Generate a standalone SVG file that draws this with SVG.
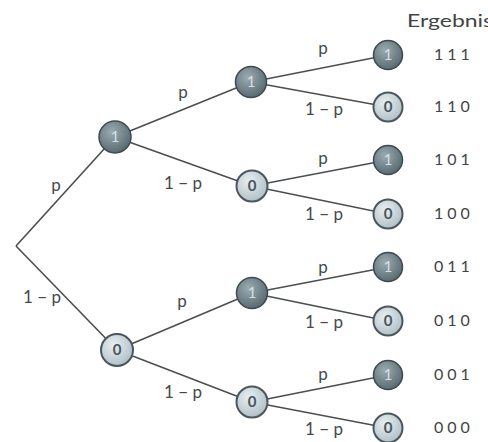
<svg xmlns="http://www.w3.org/2000/svg" width="488" height="442" viewBox="0 0 488 442">
<defs>
<radialGradient id="g1" cx="0.4" cy="0.35" r="0.7">
<stop offset="0" stop-color="#9aabb2"/>
<stop offset="1" stop-color="#56666d"/>
</radialGradient>
<radialGradient id="g0" cx="0.4" cy="0.35" r="0.7">
<stop offset="0" stop-color="#e8eff2"/>
<stop offset="1" stop-color="#aebdc4"/>
</radialGradient>
</defs>
<style>
.e{stroke:#4a4f52;stroke-width:1.6;fill:none}
.n1 circle{fill:url(#g1);stroke:#3d4a50;stroke-width:1.5}
.n0 circle{fill:url(#g0);stroke:#4a565c;stroke-width:2}
.n1 text{fill:#d6e0e4;font-family:Lato,"Open Sans",sans-serif;font-size:15px;text-anchor:middle}
.n0 text{fill:#4a565c;font-family:Lato,"Open Sans",sans-serif;font-size:15px;text-anchor:middle;font-weight:bold}
.l{fill:#45494c;font-family:Lato,"Open Sans",sans-serif;font-size:17px;text-anchor:middle}
.r{fill:#3f4447;font-family:Lato,"Open Sans",sans-serif;font-size:16px;letter-spacing:4px}
</style>
<rect width="488" height="442" fill="#ffffff"/>
<g id="connectors">
<path class="e" d="M16,246 L115,137 M16,246 L117,350"/>
<path class="e" d="M115,137 L251,82 M115,137 L252,186 M117,350 L252,293 M117,350 L252,402"/>
<path class="e" d="M251,82 L388,55 M251,82 L388,107 M252,186 L388,160 M252,186 L388,214 M252,293 L388,267 M252,293 L388,321 M252,402 L388,375 M252,402 L388,428"/>
</g>
<g id="labels">
<text class="l" x="56" y="191">p</text>
<text class="l" x="42" y="303">1 − p</text>
<text class="l" x="183" y="98">p</text>
<text class="l" x="183" y="189">1 − p</text>
<text class="l" x="182" y="307">p</text>
<text class="l" x="183" y="398">1 − p</text>
<text class="l" x="323" y="54">p</text>
<text class="l" x="324" y="115">1 − p</text>
<text class="l" x="323" y="164">p</text>
<text class="l" x="324" y="220">1 − p</text>
<text class="l" x="323" y="273">p</text>
<text class="l" x="324" y="328">1 − p</text>
<text class="l" x="323" y="380">p</text>
<text class="l" x="324" y="435">1 − p</text>
</g>
<g id="n-A1" class="n1"><circle cx="115" cy="137" r="16"/><text x="115" y="142">1</text></g>
<g id="n-A0" class="n0"><circle cx="117" cy="350" r="16"/><text x="117" y="355">0</text></g>
<g id="n-B11" class="n1"><circle cx="251" cy="82" r="15.5"/><text x="251" y="87">1</text></g>
<g id="n-B10" class="n0"><circle cx="252" cy="186" r="15.5"/><text x="252" y="191">0</text></g>
<g id="n-B01" class="n1"><circle cx="252" cy="293" r="15.5"/><text x="252" y="298">1</text></g>
<g id="n-B00" class="n0"><circle cx="252" cy="402" r="15.5"/><text x="252" y="407">0</text></g>
<g id="n-111" class="n1"><circle cx="388" cy="55" r="14.5"/><text x="388" y="60">1</text></g>
<g id="n-110" class="n0"><circle cx="388" cy="107" r="14.5"/><text x="388" y="112">0</text></g>
<g id="n-101" class="n1"><circle cx="388" cy="160" r="14.5"/><text x="388" y="165">1</text></g>
<g id="n-100" class="n0"><circle cx="388" cy="214" r="14.5"/><text x="388" y="219">0</text></g>
<g id="n-011" class="n1"><circle cx="388" cy="267" r="14.5"/><text x="388" y="272">1</text></g>
<g id="n-010" class="n0"><circle cx="388" cy="321" r="14.5"/><text x="388" y="326">0</text></g>
<g id="n-001" class="n1"><circle cx="388" cy="375" r="14.5"/><text x="388" y="380">1</text></g>
<g id="n-000" class="n0"><circle cx="388" cy="428" r="14.5"/><text x="388" y="433">0</text></g>
<g id="results">
<text x="407" y="27" fill="#3f4447" font-family="Lato,'Open Sans',sans-serif" font-size="18" textLength="86" lengthAdjust="spacingAndGlyphs">Ergebnis</text>
<text class="r" x="434" y="60">111</text>
<text class="r" x="434" y="112">110</text>
<text class="r" x="434" y="165">101</text>
<text class="r" x="434" y="219">100</text>
<text class="r" x="434" y="272">011</text>
<text class="r" x="434" y="326">010</text>
<text class="r" x="434" y="380">001</text>
<text class="r" x="434" y="433">000</text>
</g>
</svg>
